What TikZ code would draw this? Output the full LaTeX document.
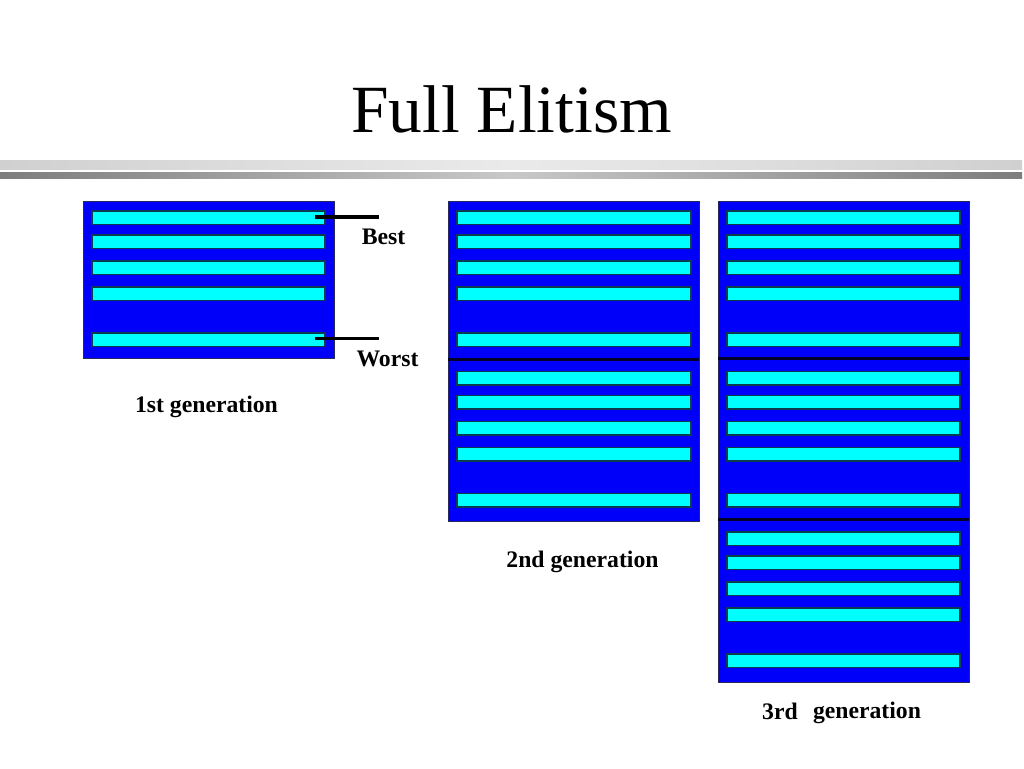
\documentclass[tikz,border=0pt]{standalone}
\usepackage{fontspec}
\setmainfont{Liberation Serif}
\begin{document}
\begin{tikzpicture}[x=1pt,y=-1pt,
  popbox/.style={fill={rgb,255:red,0;green,0;blue,250}, draw={rgb,255:red,40;green,40;blue,90}, line width=1pt},
  indiv/.style={fill={rgb,255:red,0;green,255;blue,255}, draw={rgb,255:red,10;green,60;blue,80}, line width=1.1pt},
  divider/.style={draw={rgb,255:red,0;green,0;blue,40}, line width=3pt},
  pointer/.style={draw=black, line width=3.2pt},
  lab/.style={font=\bfseries\fontsize{23.7}{27}\selectfont, anchor=base, inner sep=0pt},
  ttl/.style={font=\fontsize{67.5}{72}\selectfont, anchor=base, inner sep=0pt}]
\useasboundingbox (0,0) rectangle (1024,768);
\fill[white] (0,0) rectangle (1024,768);
% header bands
\shade[left color={rgb,255:red,208;green,208;blue,208}, right color={rgb,255:red,208;green,208;blue,208}, middle color={rgb,255:red,234;green,234;blue,234}] (0,160) rectangle (1022,169);
\shade[left color={rgb,255:red,125;green,125;blue,125}, right color={rgb,255:red,125;green,125;blue,125}, middle color={rgb,255:red,200;green,200;blue,200}] (0,172) rectangle (1022,178);
\node[ttl] (title) at (511.5,132) {Full Elitism};
% boxes
\draw[popbox] (83,201) rectangle (334,358);
\draw[popbox] (448,201) rectangle (699,521);
\draw[popbox] (718,201) rectangle (969,682);
\draw[divider] (448,359) -- (699,359);
\draw[divider] (718,358) -- (969,358);
\draw[divider] (718,519.5) -- (969,519.5);
% individuals
\foreach \o in {10,34,60,86,132}{
  \draw[indiv] (92,201+\o) rectangle (325,214.5+\o);
}
\foreach \s in {0,160.5}{
  \foreach \o in {10,34,60,86,132}{
    \draw[indiv] (457,201+\s+\o) rectangle (691,214.5+\s+\o);
  }
}
\foreach \s in {0,160.5,321}{
  \foreach \o in {10,34,60,86,132}{
    \draw[indiv] (727,201+\s+\o) rectangle (960,214.5+\s+\o);
  }
}
% pointers
\coordinate (bestA) at (315,217);
\coordinate (bestB) at (379,217);
\coordinate (worstA) at (315,338.5);
\coordinate (worstB) at (379,338.5);
\draw[pointer] (bestA) -- (bestB);
\draw[pointer] (worstA) -- (worstB);
% labels
\node[lab] (best) at (383.5,244) {Best};
\node[lab] (worst) at (387.5,366) {Worst};
\node[lab] (g1) at (206.5,412) {1st generation};
\node[lab] (g2) at (582.5,567) {2nd generation};
\node[lab] (g3a) at (780,719) {3rd};
\node[lab] (g3b) at (867,718) {generation};
\end{tikzpicture}
\end{document}
